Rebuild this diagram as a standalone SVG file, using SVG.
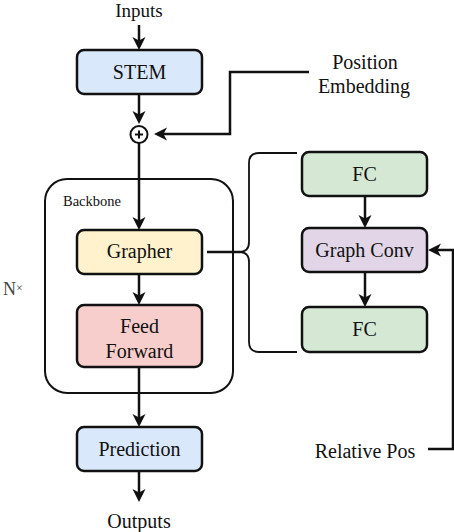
<svg xmlns="http://www.w3.org/2000/svg" width="454" height="532" viewBox="0 0 454 532">
<style>
  text{font-family:'Liberation Serif','Times New Roman','DejaVu Serif',serif}
  .t{font-size:20px;fill:#111;text-anchor:middle}
  .box{stroke:#111;stroke-width:2.5}
  .blue{fill:#dae8fc}.yellow{fill:#fff2cc}.red{fill:#f8cecc}.green{fill:#d5e8d4}.purple{fill:#e1d5e7}
  .ln{fill:none;stroke:#111;stroke-width:2.5}
  .thin{fill:none;stroke:#111;stroke-width:1.8}
</style>
<defs>
  <marker id="ah" markerUnits="userSpaceOnUse" markerWidth="20" markerHeight="20" viewBox="-12 -8 20 16" refX="0" refY="0" orient="auto" overflow="visible">
    <path d="M4,0 L-9,-6.5 L-5.5,0 L-9,6.5 Z" fill="#111"/>
  </marker>
</defs>
<rect width="454" height="532" fill="#fff"/>

<g id="backbone">
  <rect x="45" y="179" width="188" height="214" rx="22" fill="none" stroke="#111" stroke-width="2"/>
  <text x="92" y="206" class="t" font-size="14.5" style="font-size:14.5px">Backbone</text>
</g>
<g id="nx">
  <text x="3" y="295" font-family="Liberation Serif, serif" style="font-size:18px;fill:#444">N<tspan font-size="12" dy="-3">×</tspan></text>
</g>

<g id="connectors">
  <path class="ln" d="M139,25 V46" marker-end="url(#ah)"/>
  <path class="ln" d="M139,94 V120" marker-end="url(#ah)"/>
  <path class="ln" d="M139,143 V226" marker-end="url(#ah)"/>
  <path class="ln" d="M139,274 V301" marker-end="url(#ah)"/>
  <path class="ln" d="M139,367 V423" marker-end="url(#ah)"/>
  <path class="ln" d="M139,471 V498" marker-end="url(#ah)"/>
  <path class="ln" d="M365,196 V224" marker-end="url(#ah)"/>
  <path class="ln" d="M365,272 V303" marker-end="url(#ah)"/>
  <path class="ln" d="M309,72 H230 V134 H158" marker-end="url(#ah)"/>
  <path class="ln" d="M428,449 H453 V250 H432" marker-end="url(#ah)"/>
  <path class="ln" d="M207,252 H240"/>
  <path class="thin" d="M297,153 H259 Q249,153 249,163 V242 Q249,252 239,252 Q249,252 249,262 V342 Q249,352 259,352 H297"/>
</g>

<g id="inputs"><text x="139" y="17" class="t" style="font-size:19px">Inputs</text></g>
<g id="stem">
  <rect x="77" y="50" width="125" height="44" rx="7" class="box blue"/>
  <text x="139.5" y="79" class="t">STEM</text>
</g>
<g id="plus">
  <circle cx="139" cy="134.5" r="8.5" fill="#fff" stroke="#111" stroke-width="2"/>
  <path d="M135,134.5 H143 M139,130.5 V138.5" stroke="#111" stroke-width="2"/>
</g>
<g id="posemb">
  <text x="365" y="69" class="t">Position</text>
  <text x="364" y="93" class="t">Embedding</text>
</g>
<g id="grapher">
  <rect x="77" y="230" width="125" height="44" rx="7" class="box yellow"/>
  <text x="139.5" y="258" class="t">Grapher</text>
</g>
<g id="ff">
  <rect x="77" y="305" width="125" height="62" rx="7" class="box red"/>
  <text x="139.5" y="333" class="t">Feed</text>
  <text x="139.5" y="358" class="t">Forward</text>
</g>
<g id="prediction">
  <rect x="77" y="427" width="125" height="44" rx="7" class="box blue"/>
  <text x="139.5" y="456" class="t">Prediction</text>
</g>
<g id="outputs"><text x="139" y="528" class="t">Outputs</text></g>
<g id="fc1">
  <rect x="302" y="152" width="125" height="44" rx="7" class="box green"/>
  <text x="364.5" y="181" class="t">FC</text>
</g>
<g id="graphconv">
  <rect x="302" y="228" width="125" height="44" rx="7" class="box purple"/>
  <text x="364.5" y="257" class="t">Graph Conv</text>
</g>
<g id="fc2">
  <rect x="302" y="307" width="125" height="45" rx="7" class="box green"/>
  <text x="364.5" y="336" class="t">FC</text>
</g>
<g id="relpos"><text x="365" y="458" class="t">Relative Pos</text></g>
</svg>
